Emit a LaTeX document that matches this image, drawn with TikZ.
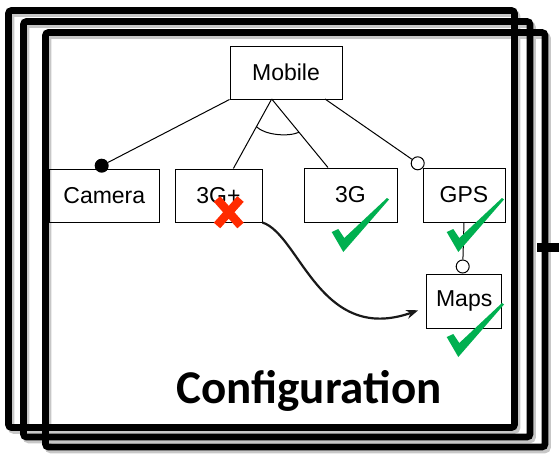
\documentclass[tikz,border=0pt]{standalone}
\usepackage{fontspec}
\setmainfont{Liberation Sans}
\newfontfamily\cfgfont{Carlito}
\usetikzlibrary{arrows.meta,calc}
\definecolor{okgreen}{HTML}{00B050}
\definecolor{nored}{HTML}{FF2A00}

\begin{document}
\begin{tikzpicture}[x=1pt,y=-1pt,>={Stealth[length=12pt,width=9pt]},
  feature/.style={draw,line width=1pt,inner sep=0pt,font=\fontsize{23}{27}\selectfont},
  frame/.style={draw,line width=6.7pt,rounded corners=3pt},
  frameshade/.style={draw=black!22,line width=6.7pt,rounded corners=3pt},
  link/.style={line width=1pt},
  okmark/.pic={\fill[okgreen] (0.7,34) -- (7.3,31) -- (13.3,40) -- (56,0) -- (58,1.5) -- (12.3,54) -- cycle;}]
\useasboundingbox (0,0) rectangle (559,455);
% stacked frames
\draw[frameshade] (11,13.5) rectangle (517,430.5);
\draw[frameshade] (26,24.5) rectangle (532.5,440);
\draw[frameshade] (48,35.5) rectangle (547.5,450);
\draw[frame] (8.5,10.5) rectangle (514.5,427.5);
\draw[frame] (23.5,21.5) rectangle (530,437);
\draw[frame] (45.5,32.5) rectangle (545,447);
\draw[line width=8.5pt] (537,247.5) -- (559,247.5);

\node[feature,minimum width=112pt,minimum height=53pt] (mobile) at (286,72.5) {Mobile};
\node[feature,minimum width=110pt,minimum height=53pt] (camera) at (104.3,195.5) {Camera};
\node[feature,minimum width=87pt,minimum height=53pt] (g3p) at (218.5,195.5) {3G+};
\node[feature,minimum width=93pt,minimum height=54pt] (g3) at (350.5,195) {3G};
\node[feature,minimum width=82pt,minimum height=54pt] (gps) at (464,195) {GPS};
\node[feature,minimum width=75pt,minimum height=54pt] (maps) at (464.2,301.3) {Maps};
\node[circle,fill,inner sep=0pt,minimum size=14pt] (mand) at (101.7,165.7) {};
\node[circle,draw,fill=white,line width=1pt,inner sep=0pt,minimum size=13pt] (opt) at (417.7,163.3) {};
\node[circle,draw,fill=white,line width=1pt,inner sep=0pt,minimum size=13pt] (optmaps) at (462.7,266.5) {};
\coordinate (xor) at (271.7,99);
\coordinate (optstart) at (325,99);

\draw[link] (mobile.south west) -- (mand);
\draw[link] (xor) -- (g3p);
\draw[link] (xor) -- (g3);
\draw[link] ($(xor)!0.287!(g3p)$) .. controls +(8,8) and +(-12,5) .. ($(xor)!0.347!(g3)$);
\draw[link] (optstart) -- (opt);
\draw[link] (gps.south) -- (optmaps);
\draw[->,line width=2.2pt,black!90] (g3p.south east) .. controls (300,235) and (320,345) .. ([xshift=-8pt,yshift=-9pt]maps.west);

% marks
\draw[nored,line width=8.5pt] (217,199) -- (240.5,225.5) (240.5,199) -- (217,225.5);
\pic at (331,198) {okmark};
\pic at (446,198) {okmark};
\pic at (446,303) {okmark};

\node[font=\cfgfont\bfseries\fontsize{47}{51}\selectfont,anchor=base] (cfg) at (309,403.3) {Configuration};
\end{tikzpicture}
\end{document}
